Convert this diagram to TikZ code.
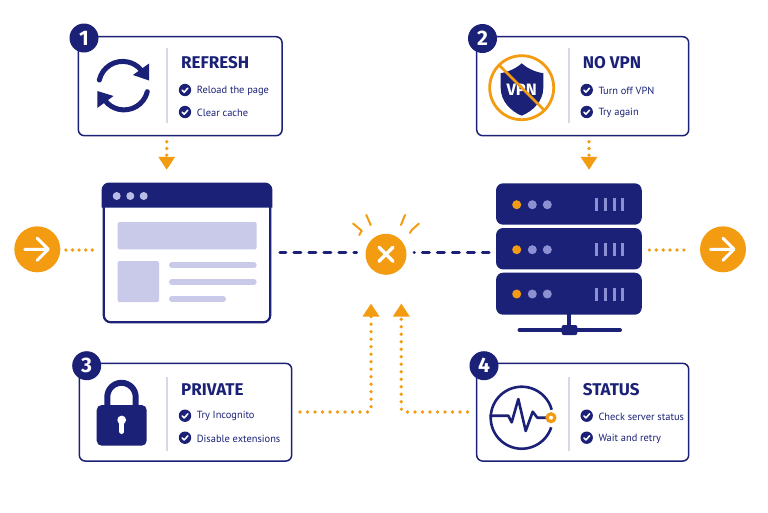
\documentclass[tikz,border=0pt]{standalone}
\usepackage{fontspec}
\setmainfont{PT Sans}
\newfontfamily\titlefont{Fira Sans}[UprightFont=* Bold]
\usetikzlibrary{arrows.meta}
\definecolor{navy}{HTML}{1A2176}
\definecolor{amber}{HTML}{F39C12}
\definecolor{lav}{HTML}{C9C9E9}
\definecolor{rule}{HTML}{D6D8EA}
\definecolor{soft}{HTML}{B9BCE4}
\definecolor{mid}{HTML}{8C90D2}
\tikzset{
  card/.style={draw=navy,fill=white,line width=1.5pt,rounded corners=6pt,inner sep=0pt},
  badge/.style={circle,fill=navy,text=white,minimum size=29pt,inner sep=0pt,font=\titlefont\fontsize{21}{21}\selectfont},
  title/.style={anchor=west,inner sep=0pt,text=navy,font=\titlefont\fontsize{17}{18}\selectfont},
  item/.style={anchor=west,inner sep=0pt,text=navy,font=\fontsize{10.4}{12}\selectfont},
  divider/.style={draw=rule,line width=1.2pt},
  disc/.style={circle,fill=amber,inner sep=0pt},
  dotline/.style={draw=amber,line width=3.7pt,line cap=round,dash pattern=on 0pt off 7.5pt},
  topline/.style={draw=amber,line width=3.7pt,line cap=round,dash pattern=on 0pt off 6.7pt},
  wire/.style={draw=navy,line width=3.2pt,line cap=round},
  tip/.style={-{Triangle[length=13pt,width=16pt,sep=2.5pt]}},
  panel/.style={inner sep=0pt,rounded corners=7pt},
  spark/.style={draw=amber,line width=2pt,line cap=round,line join=round},
  chk/.pic={
    \fill[navy] (0,0) circle[radius=6.2];
    \draw[white,line width=1.6pt,line cap=round,line join=round] (-2.8,0.2) -- (-0.8,2.2) -- (2.9,-1.9);
  },
  go/.pic={
    \draw[white,line width=3pt,line cap=round,line join=round] (-12.5,0) -- (10.5,0) (0,-11) -- (11,0) -- (0,11);
  }
}
\begin{document}
\begin{tikzpicture}[x=1pt,y=-1pt]
\useasboundingbox (0,0) rectangle (768,512);
\fill[white] (0,0) rectangle (768,512);

% ---------- cards
\node[card,minimum width=203.7pt,minimum height=99pt] (c1) at (180.2,86.2) {};
\node[card,minimum width=212pt,minimum height=99pt] (c2) at (582.7,86.2) {};
\node[card,minimum width=212.4pt,minimum height=97.7pt] (c3) at (185.5,412.2) {};
\node[card,minimum width=212pt,minimum height=97.7pt] (c4) at (582.7,412.2) {};

\node[badge] (b1) at (84,38) {1};
\node[badge] (b2) at (482.5,38.5) {2};
\node[badge] (b3) at (86.7,365.7) {3};
\node[badge] (b4) at (484,365.7) {4};

\draw[divider] (167,48) -- (167,123);
\draw[divider] (569,48) -- (569,123);
\draw[divider] (167,376.7) -- (167,451);
\draw[divider] (569,376.7) -- (569,451);

\node[title] (t1) at (181,62.7) {REFRESH};
\node[title] (t2) at (582.7,62.7) {NO VPN};
\node[title] (t3) at (181,390) {PRIVATE};
\node[title] (t4) at (582.7,390) {STATUS};

\pic at (185,90) {chk};
\pic at (185,112) {chk};
\pic at (586.7,90) {chk};
\pic at (586.7,112) {chk};
\pic at (185,415.7) {chk};
\pic at (185,437.7) {chk};
\pic at (586.7,415.7) {chk};
\pic at (586.7,437.7) {chk};

\node[item] (i11) at (196.7,90.7) {Reload the page};
\node[item] (i12) at (196.7,112.7) {Clear cache};
\node[item] (i21) at (598.3,90.7) {Turn off VPN};
\node[item] (i22) at (598.3,112.7) {Try again};
\node[item] (i31) at (196.7,416.4) {Try Incognito};
\node[item] (i32) at (196.7,438.4) {Disable extensions};
\node[item] (i41) at (598.3,416.4) {Check server status};
\node[item] (i42) at (598.3,438.4) {Wait and retry};

% ---------- refresh icon
\draw[navy,line width=5pt,line cap=round] (99.3,80) arc[start angle=193,end angle=318,radius=24];
\fill[navy] (149,63.5) -- (149,80.5) -- (133,75) -- cycle;
\draw[navy,line width=5pt,line cap=round] (147.3,91.7) arc[start angle=14,end angle=140,radius=24];
\fill[navy] (97.3,91) -- (97.3,108) -- (113.5,96) -- cycle;

% ---------- no-VPN icon
\fill[navy] (521.7,63.3) .. controls (528,69) and (536,72) .. (543.3,73.3) -- (543.3,88)
  .. controls (543.3,101) and (533,111) .. (521.7,115.7)
  .. controls (510.4,111) and (500.7,101) .. (500.7,88) -- (500.7,73.3)
  .. controls (507.4,72) and (515.4,69) .. cycle;
\node[inner sep=0pt,text=white,font=\titlefont\fontsize{16.5}{17}\selectfont] (vpn) at (521.7,90) {VPN};
\draw[amber,line width=2.8pt] (521.7,87.7) circle[radius=32];
\draw[amber,line width=2.8pt] (498.5,64.5) -- (544.9,110.9);

% ---------- lock icon
\draw[navy,line width=6pt] (107.3,408) -- (107.3,397) arc[start angle=180,end angle=360,radius=14.2] -- (135.7,408);
\fill[navy,rounded corners=5pt] (96.7,405) rectangle (146.7,445.7);
\fill[white] (121.7,420) circle[radius=4.4];
\draw[white,line width=4.6pt,line cap=round] (121.7,421) -- (121.7,431.7);

% ---------- status icon
\draw[navy,line width=2.6pt] (551.2,427.3) arc[start angle=18,end angle=345,radius=31];
\draw[navy,line width=2.6pt,line join=round,line cap=round] (490.5,415.7) -- (508.3,415.7) -- (511.7,422.3) -- (518.3,399) -- (525.7,431) -- (532.7,411.7) -- (537.3,417.7) -- (546,417.7);
\fill[amber] (551,417.7) circle[radius=5.6];
\fill[white] (551,417.7) circle[radius=2];

% ---------- browser
\node[draw=navy,fill=white,line width=2.2pt,rounded corners=7pt,minimum width=166.5pt,minimum height=138pt,inner sep=0pt] (web) at (187,253.3) {};
\fill[navy] (101.6,207.7) -- (101.6,190) arc[start angle=180,end angle=270,radius=7.5] -- (264.9,182.5) arc[start angle=270,end angle=360,radius=7.5] -- (272.4,207.7) -- cycle;
\foreach \x in {116.7,130.3,143.7} \fill[soft] (\x,196) circle[radius=4];
\fill[lav,rounded corners=1.5pt] (117.7,222) rectangle (256.7,249.3);
\fill[lav,rounded corners=1.5pt] (117.7,261) rectangle (159,302);
\draw[lav,line width=6pt,line cap=round] (172,265.3) -- (253.7,265.3);
\draw[lav,line width=6pt,line cap=round] (172,282) -- (253.7,282);
\draw[lav,line width=6pt,line cap=round] (172,299) -- (223,299);

% ---------- server
\node[panel,fill=navy,minimum width=145.7pt,minimum height=41.4pt] (s1) at (568.9,204) {};
\node[panel,fill=navy,minimum width=145.7pt,minimum height=41.4pt] (s2) at (568.9,248.7) {};
\node[panel,fill=navy,minimum width=145.7pt,minimum height=42pt] (s3) at (568.9,293.7) {};
\foreach \y in {204.7,249.7,294}{
  \fill[amber] (516.7,\y) circle[radius=4.5];
  \fill[mid] (532.3,\y) circle[radius=4.5];
  \fill[mid] (547.3,\y) circle[radius=4.5];
  \foreach \x in {596.7,605.3,614,622.7}
    \draw[mid,line width=3pt] (\x,\y-6.5) -- (\x,\y+6.5);
}
\coordinate (standtop) at (569.3,314);
\coordinate (standhub) at (569.3,330);
\draw[navy,line width=4pt] (standtop) -- (standhub);
\draw[navy,line width=4pt,line cap=round] (519.5,330) -- (620,330);
\fill[navy,rounded corners=2pt] (561.7,325) rectangle (577.3,335);

% ---------- error + outer discs
\node[disc,minimum size=41pt] (err) at (386,254.3) {};
\draw[white,line width=3.4pt,line cap=round] (379,247.3) -- (393,261.3) (393,247.3) -- (379,261.3);
\node[disc,minimum size=46pt] (inD) at (37.3,249.3) {};
\pic at (37.3,249.3) {go};
\node[disc,minimum size=46pt] (outD) at (723,249.3) {};
\pic at (723,249.3) {go};

\draw[spark] (353,223.5) -- (361.7,230.7) -- (359.3,235);
\draw[spark] (366.3,215) -- (370.7,225);
\draw[spark] (405,215) -- (401,225);
\draw[spark] (419,223.5) -- (411.7,230) -- (410,233);

% ---------- connectors
\coordinate (level) at (0,252.7);
\coordinate (dotlevel) at (0,250);
\coordinate (low) at (0,412);
\draw[wire,dash pattern=on 7pt off 8pt,dash phase=1pt,shorten <=8.5pt,shorten >=8.7pt] (web.east |- level) -- (err.west |- level);
\draw[wire,dash pattern=on 7pt off 8pt,dash phase=6.8pt,shorten <=7.5pt,shorten >=6.8pt] (err.east |- level) -- (s2.west |- level);
\draw[dotline,dash pattern=on 0pt off 6.6pt,shorten <=5.4pt,shorten >=6.6pt] (inD.east |- dotlevel) -- (web.west |- dotlevel);
\draw[dotline,dash pattern=on 0pt off 6.9pt,shorten <=7.4pt,shorten >=9.3pt] (s2.east |- dotlevel) -- (outD.west |- dotlevel);

\coordinate (in1) at (166.7,172.3);
\coordinate (in2) at (589,172.3);
\coordinate (a3) at (371,301);
\coordinate (a4) at (401.3,301);
\draw[topline,tip] (c1.south -| in1) ++(0,5.3) -- (in1);
\draw[topline,tip] (c2.south -| in2) ++(0,5.3) -- (in2);
\draw[dotline,tip,rounded corners=3pt,shorten <=7.5pt] (c3.east |- low) -- (a3 |- low) -- (a3);
\draw[dotline,tip,rounded corners=3pt,shorten <=8.5pt] (c4.west |- low) -- (a4 |- low) -- (a4);
\end{tikzpicture}
\end{document}
